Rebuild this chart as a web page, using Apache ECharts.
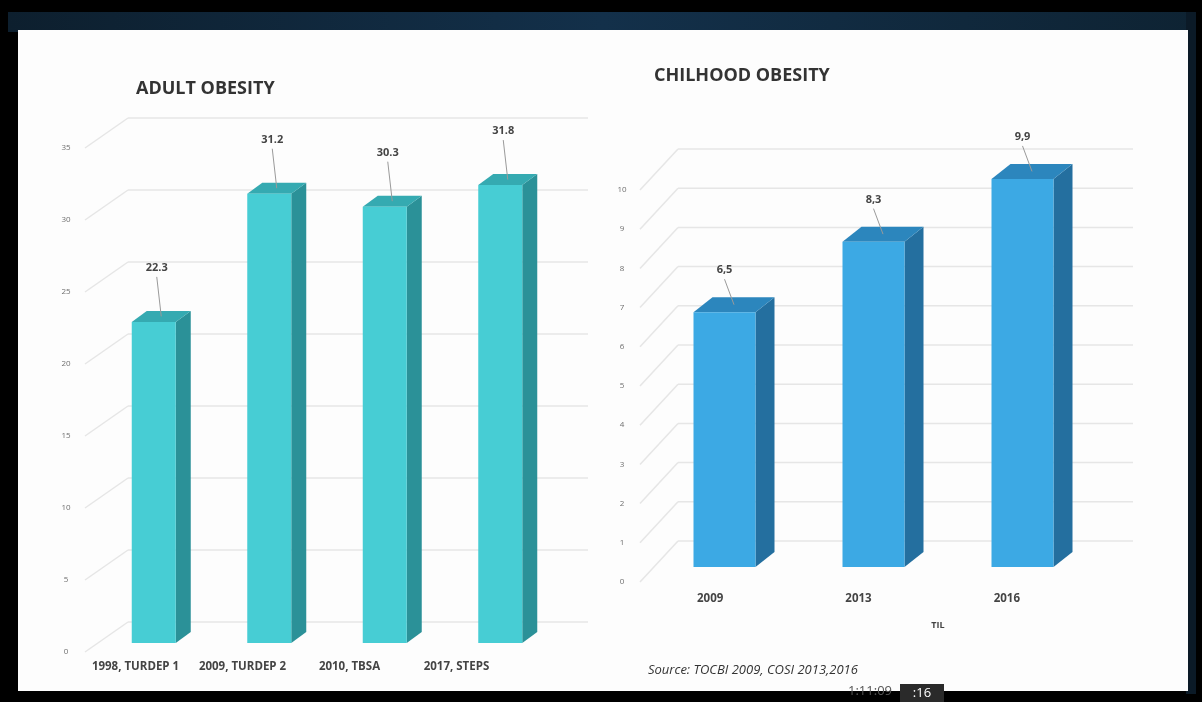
<!DOCTYPE html>
<html><head><meta charset="utf-8">
<script src="https://cdn.jsdelivr.net/npm/echarts@6/dist/echarts.min.js"></script>
<style>html,body{margin:0;padding:0;background:#000}#c{width:1202px;height:702px}</style>
</head><body><div id="c"></div>
<script>
// ---- data ----
const adultCategories = ['1998, TURDEP 1', '2009, TURDEP 2', '2010, TBSA', '2017, STEPS'];
const adultValues = [22.3, 31.2, 30.3, 31.8];
const adultTicks = [0, 5, 10, 15, 20, 25, 30, 35];
const childCategories = ['2009', '2013', '2016'];
const childValues = [6.5, 8.3, 9.9];
const childTicks = [0, 1, 2, 3, 4, 5, 6, 7, 8, 9, 10];

const chart = echarts.init(document.getElementById('c'), null, {renderer: 'canvas'});

function barRenderer(cfg) {
  return function (params, api) {
    const cat = api.value(0), v = api.value(1);
    const top = api.coord([cat, v]);
    const base = api.coord([cat, 0]);
    const w = cfg.width, dx = cfg.dx, dy = cfg.dy;
    const x0 = top[0] - w / 2, x1 = top[0] + w / 2;
    const yT = top[1], yB = base[1];
    const lx = top[0] + cfg.labelDx, ly = yT - cfg.labelUp;
    return {
      type: 'group',
      children: [
        {type: 'polygon', shape: {points: [[x1, yT], [x1 + dx, yT + dy], [x1 + dx, yB + dy], [x1, yB]]}, style: {fill: cfg.side}},
        {type: 'polygon', shape: {points: [[x0, yT], [x0 + dx, yT + dy], [x1 + dx, yT + dy], [x1, yT]]}, style: {fill: cfg.topc}},
        {type: 'rect', shape: {x: x0, y: yT, width: w, height: yB - yT}, style: {fill: cfg.front}},
        {type: 'line', shape: {x1: lx, y1: ly + 9, x2: top[0] + dx / 2, y2: yT + dy / 2}, style: {stroke: '#9a9a9a', lineWidth: 1}},
        {type: 'text', x: lx, y: ly, style: {text: cfg.fmt(v), align: 'center', verticalAlign: 'middle', fill: '#444', font: 'bold 11px "Open Sans", sans-serif'}}
      ]
    };
  };
}

function gridRenderer(cfg) {
  return function (params, api) {
    const v = api.value(1);
    const cs = params.coordSys;
    const p = api.coord([0, v]);
    const y = p[1] + cfg.labelDy;
    const x = cs.x;
    return {
      type: 'group',
      children: [
        {type: 'line', shape: {x1: x + cfg.diagX0, y1: y, x2: x + cfg.diagX1, y2: y + cfg.backDy}, style: {stroke: '#e6e6e6', lineWidth: 1.5}},
        {type: 'line', shape: {x1: x + cfg.diagX1, y1: y + cfg.backDy, x2: x + cs.width + cfg.backRight, y2: y + cfg.backDy}, style: {stroke: '#e6e6e6', lineWidth: 1.5}},
        {type: 'text', x: x + cfg.labelX, y: y, style: {text: String(v), align: 'center', verticalAlign: 'middle', fill: '#6f6f6f', font: '8px "Open Sans", sans-serif'}}
      ]
    };
  };
}

const catLabelStyle = {color: '#444', fontSize: 11.5, fontWeight: 'bold', fontFamily: '"Open Sans", sans-serif', margin: 2, interval: 0, hideOverlap: false};

const option = {
  animation: false,
  backgroundColor: '#000',
  graphic: [
    {type: 'rect', z: -10, shape: {x: 8, y: 12, width: 1188, height: 20}, style: {fill: new echarts.graphic.LinearGradient(0, 0, 1, 0, [{offset: 0, color: '#0d1f2e'}, {offset: 0.5, color: '#13304a'}, {offset: 1, color: '#0e2333'}])}},
    {type: 'rect', z: -10, shape: {x: 1186, y: 12, width: 10, height: 682}, style: {fill: '#0b1a27'}},
    {type: 'rect', z: -9, shape: {x: 18, y: 30, width: 1170, height: 661}, style: {fill: '#fdfdfd'}},
    {type: 'text', z: 5, x: 848, y: 691, style: {text: '1:11:09', fill: '#555', font: '13px "Open Sans", sans-serif', verticalAlign: 'middle'}},
    {type: 'rect', z: 6, shape: {x: 0, y: 696, width: 1202, height: 6}, style: {fill: '#000'}},
    {type: 'rect', z: 7, shape: {x: 900, y: 684, width: 44, height: 18}, style: {fill: '#2a2a2a'}},
    {type: 'text', z: 8, x: 922, y: 693, style: {text: ':16', fill: '#fff', font: '13px "Open Sans", sans-serif', align: 'center', verticalAlign: 'middle'}},
    {type: 'text', z: 5, x: 938, y: 625, style: {text: 'TIL', fill: '#444', font: 'bold 9px "Open Sans", sans-serif', align: 'center', verticalAlign: 'middle'}},
    {type: 'text', z: 5, x: 648, y: 670, style: {text: 'Source: TOCBI 2009, COSI 2013,2016', fill: '#333', font: 'italic 13px "Open Sans", sans-serif', verticalAlign: 'middle'}}
  ],
  title: [
    {text: 'ADULT OBESITY', left: 131, top: 75, textStyle: {color: '#333', fontSize: 18, fontWeight: 'bold', fontFamily: '"Open Sans", sans-serif'}},
    {text: 'CHILHOOD OBESITY', left: 649, top: 62, textStyle: {color: '#333', fontSize: 18, fontWeight: 'bold', fontFamily: '"Open Sans", sans-serif'}}
  ],
  grid: [
    {left: 96, top: 139, width: 462, height: 504},
    {left: 82, top: 100, width: 428, height: 559},
    {left: 650, top: 175, width: 447, height: 392},
    {left: 636, top: 100, width: 445, height: 491}
  ],
  xAxis: [
    {gridIndex: 0, type: 'category', data: adultCategories, show: false},
    {gridIndex: 1, type: 'category', data: adultCategories, axisLine: {show: false}, axisTick: {show: false}, axisLabel: catLabelStyle},
    {gridIndex: 2, type: 'category', data: childCategories, show: false},
    {gridIndex: 3, type: 'category', data: childCategories, axisLine: {show: false}, axisTick: {show: false}, axisLabel: catLabelStyle}
  ],
  yAxis: [
    {gridIndex: 0, type: 'value', min: 0, max: 35, interval: 5, show: false},
    {gridIndex: 1, type: 'value', show: false},
    {gridIndex: 2, type: 'value', min: 0, max: 10, interval: 1, show: false},
    {gridIndex: 3, type: 'value', show: false}
  ],
  series: [
    {type: 'custom', xAxisIndex: 0, yAxisIndex: 0, z: 1, silent: true,
      data: adultTicks.map(t => [0, t]),
      renderItem: gridRenderer({labelDy: 9, labelX: -30, diagX0: -11, diagX1: 32, backDy: -30, backRight: 30})},
    {type: 'custom', xAxisIndex: 0, yAxisIndex: 0, z: 2, silent: true,
      data: adultValues.map((v, i) => [i, v]),
      renderItem: barRenderer({width: 44, dx: 15, dy: -11, front: '#47cdd4', side: '#2b9198', topc: '#35aab1', labelDx: 3, labelUp: 54, fmt: v => v.toFixed(1)})},
    {type: 'custom', xAxisIndex: 2, yAxisIndex: 2, z: 1, silent: true,
      data: childTicks.map(t => [0, t]),
      renderItem: gridRenderer({labelDy: 15, labelX: -28, diagX0: -10, diagX1: 28, backDy: -41, backRight: 36})},
    {type: 'custom', xAxisIndex: 2, yAxisIndex: 2, z: 2, silent: true,
      data: childValues.map((v, i) => [i, v]),
      renderItem: barRenderer({width: 62, dx: 19, dy: -15, front: '#3ca9e4', side: '#246f9f', topc: '#2c86bd', labelDx: 0, labelUp: 42, fmt: v => v.toFixed(1).replace('.', ',')})}
  ]
};
chart.setOption(option);
</script>
</body></html>
